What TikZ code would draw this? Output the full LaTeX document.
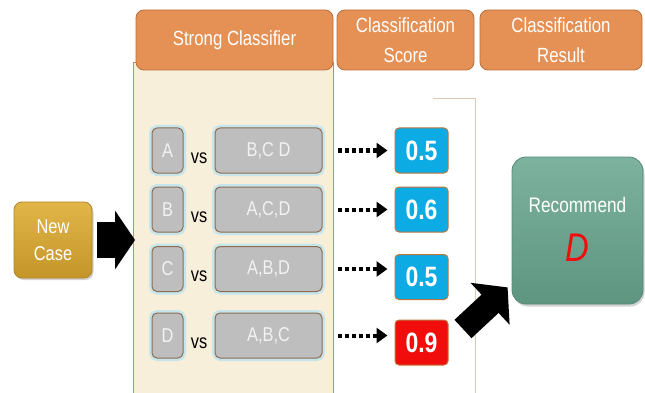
\documentclass[tikz,border=0pt]{standalone}
\usepackage{fontspec}
\setmainfont{Liberation Sans}[FakeStretch=0.82]
\usetikzlibrary{arrows.meta,shadows}

\definecolor{hdrfill}{HTML}{E59156}
\definecolor{hdrline}{HTML}{B56E3E}
\definecolor{panelfill}{HTML}{F8EFDB}
\definecolor{panelline}{HTML}{B8906E}
\definecolor{boxgray}{HTML}{BEBEBE}
\definecolor{boxline}{HTML}{8E6C52}
\definecolor{boxtext}{HTML}{F2F2F2}
\definecolor{glow}{HTML}{C6E6EC}
\definecolor{scoreblue}{HTML}{0DABE4}
\definecolor{scorered}{HTML}{F20D0D}
\definecolor{scoreline}{HTML}{C0763A}
\definecolor{goldtop}{HTML}{E2B548}
\definecolor{goldbot}{HTML}{C4962A}
\definecolor{goldline}{HTML}{B08428}
\definecolor{greentop}{HTML}{7DB39E}
\definecolor{greenbot}{HTML}{5E9580}
\definecolor{greenline}{HTML}{55887A}
\definecolor{bracket}{HTML}{E2C8B0}

\tikzset{
  hdr/.style={draw=hdrline, fill=hdrfill, rounded corners=8pt, line width=0.8pt,
    text=white, font=\fontsize{20.5}{30}\selectfont, align=center, inner sep=0pt,
    minimum height=60pt},
  keybox/.style={draw=boxline, fill=boxgray, rounded corners=5pt, line width=1pt,
    text=boxtext, font=\fontsize{20}{22}\selectfont, minimum height=45pt, inner sep=0pt,
    preaction={draw=glow, line width=6pt}},
  small/.style={keybox, minimum width=31pt},
  big/.style={keybox, minimum width=107pt},
  vslabel/.style={anchor=base, font=\fontsize{20}{22}\selectfont, inner sep=0pt},
  score/.style={draw=scoreline, rounded corners=4pt, line width=1pt, text=white,
    font=\bfseries\fontsize{28}{30}\selectfont, minimum width=53pt, minimum height=45pt,
    inner sep=0pt},
  dotarr/.style={line width=4pt, dash pattern=on 4pt off 3pt,
    -{Triangle[length=11pt,width=15pt]}},
  blockarr/.style={line width=#1, -{Triangle[length=20pt,width=58pt]}},
}

\begin{document}
\begin{tikzpicture}[x=1pt,y=-1pt]
\useasboundingbox (0,0) rectangle (645,393);
\fill[white] (0,0) rectangle (645,393);

% classifier panel and bracket of the score column
\node[draw=panelline, fill=panelfill, line width=0.8pt, anchor=north west,
  minimum width=200pt, minimum height=345pt, inner sep=0pt] (panel) at (133,62) {};
\draw[bracket, line width=1pt] (433,99) -- (475,99) -- (475,394);

% column headers
\node[hdr, minimum width=197pt] (hsc) at (234.5,40) {Strong Classifier};
\node[hdr, minimum width=137pt] (hcs) at (405.5,40) {Classification\\Score};
\node[hdr, minimum width=162pt] (hcr) at (561,40) {Classification\\Result};

% one-vs-rest classifiers
\node[small] (kA) at (167.5,150.5) {A};
\node[big]   (rA) at (268.5,150.5) {B,C D};
\node[vslabel] (vA) at (199,163) {vs};
\node[small] (kB) at (167.5,209.5) {B};
\node[big]   (rB) at (268.5,209.5) {A,C,D};
\node[vslabel] (vB) at (199,222) {vs};
\node[small] (kC) at (167.5,269) {C};
\node[big]   (rC) at (268.5,269) {A,B,D};
\node[vslabel] (vC) at (199,281.5) {vs};
\node[small] (kD) at (167.5,335.5) {D};
\node[big]   (rD) at (268.5,335.5) {A,B,C};
\node[vslabel] (vD) at (199,348) {vs};

% scores
\node[score, fill=scoreblue] (sA) at (421.5,150.5) {0.5};
\node[score, fill=scoreblue] (sB) at (421.5,209.5) {0.6};
\node[score, fill=scoreblue] (sC) at (421.5,277) {0.5};
\node[score, fill=scorered]  (sD) at (421.5,342.5) {0.9};

\foreach \r/\s in {rA/sA, rB/sB, rC/sC, rD/sD}
  \draw[dotarr] ([xshift=15pt]\r.east) -- ([xshift=-7pt]\r.east -| \s.west);

% new case input
\node[draw=goldline, top color=goldtop, bottom color=goldbot, rounded corners=8pt,
  line width=0.8pt, minimum width=78pt, minimum height=76pt, inner sep=0pt,
  drop shadow={shadow xshift=1.5pt, shadow yshift=-2pt, opacity=0.35},
  text=white, font=\fontsize{20}{27}\selectfont, align=center] (nc) at (53,240) {New\\Case};
\draw[blockarr=36pt] ([xshift=5pt]nc.east) -- ([xshift=2pt]nc.east -| panel.west);

% recommendation
\node[draw=greenline, top color=greentop, bottom color=greenbot, rounded corners=14pt,
  line width=0.8pt, minimum width=131pt, minimum height=147pt, inner sep=0pt,
  drop shadow={shadow xshift=1.5pt, shadow yshift=-2.5pt, opacity=0.35}] (rec) at (577.5,230.5) {};
\node[text=white, font=\fontsize{21}{24}\selectfont] (rt) at (577.5,205) {Recommend};
\node[text=scorered, font=\itshape\fontsize{40}{44}\selectfont] (rd) at (577.5,248) {D};

\coordinate (tail) at (463,329);
\draw[blockarr=25pt, -{Triangle[length=24pt,width=56pt]}] (tail) -- ([shift={(-4pt,17pt)}]rec.south west);
\end{tikzpicture}
\end{document}
